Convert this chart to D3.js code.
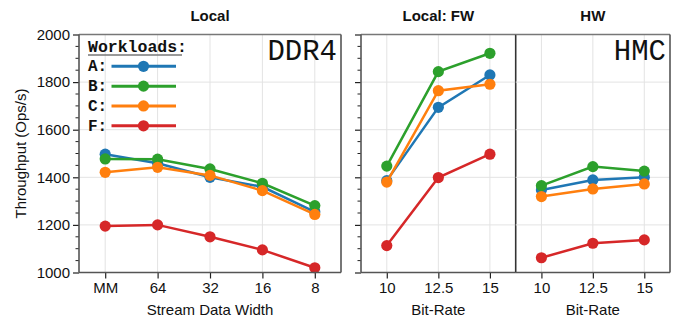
<!DOCTYPE html>
<html>
<head>
<meta charset="utf-8">
<script src="https://cdn.jsdelivr.net/npm/d3@7"></script>
<style>
  html, body { margin: 0; padding: 0; background: #fff; }
  svg text { font-family: "Liberation Sans", Arial, Helvetica, sans-serif; fill: #111; }
  .mono { font-family: "Liberation Mono", "DejaVu Sans Mono", monospace; }
</style>
</head>
<body>
<svg id="chart" width="678" height="322"></svg>
<script>
// Throughput per workload, three panels sharing one y axis
const widthCats = ["MM", "64", "32", "16", "8"];
const rateCats = ["10", "12.5", "15"];
const yTicks = [1000, 1200, 1400, 1600, 1800, 2000];

const workloads = ["A", "B", "C", "F"];
const colors = ["#1f77b4", "#2ca02c", "#ff7f0e", "#d62728"];

// Local, DDR4, by stream data width
const localA = [1497, 1459, 1400, 1360, 1255];
const localB = [1477, 1476, 1435, 1375, 1281];
const localC = [1421, 1442, 1408, 1344, 1244];
const localF = [1195, 1200, 1150, 1095, 1020];

// Local: FW, by bit-rate
const fwA = [1386, 1694, 1830];
const fwB = [1447, 1844, 1921];
const fwC = [1380, 1764, 1791];
const fwF = [1113, 1399, 1497];

// HW (HMC), by bit-rate
const hwA = [1347, 1389, 1400];
const hwB = [1365, 1445, 1426];
const hwC = [1319, 1351, 1372];
const hwF = [1062, 1123, 1137];

const svg = d3.select("#chart");
const y = d3.scaleLinear().domain([1000, 2000]).range([272.5, 34.5]);

const panels = [
  { title: "Local", cats: widthCats, x0: 79, x1: 341, xlabel: "Stream Data Width",
    series: [localA, localB, localC, localF], yAxis: "labels", tag: "DDR4" },
  { title: "Local: FW", cats: rateCats, x0: 361, x1: 515.7, xlabel: "Bit-Rate",
    series: [fwA, fwB, fwC, fwF], yAxis: "ticks" },
  { title: "HW", cats: rateCats, x0: 515.7, x1: 670, xlabel: "Bit-Rate",
    series: [hwA, hwB, hwC, hwF], yAxis: "none", tag: "HMC" }
];

const spine = "#555";

panels.forEach((p, pi) => {
  const x = d3.scalePoint().domain(p.cats).range([p.x0, p.x1]).padding(0.5);
  const g = svg.append("g");

  // grid
  g.append("g").selectAll("line.vg").data(p.cats).join("line")
    .attr("x1", d => x(d)).attr("x2", d => x(d))
    .attr("y1", y(2000)).attr("y2", y(1000))
    .attr("stroke", "#e3e3e3").attr("stroke-width", 1);
  g.append("g").selectAll("line.hg").data(yTicks.slice(1, -1)).join("line")
    .attr("x1", p.x0).attr("x2", p.x1)
    .attr("y1", d => y(d)).attr("y2", d => y(d))
    .attr("stroke", "#e3e3e3").attr("stroke-width", 1);

  // x axis
  const xa = g.append("g").attr("transform", `translate(0,${y(1000)})`)
    .call(d3.axisBottom(x).tickSize(6).tickPadding(4));
  xa.select(".domain").remove();
  xa.selectAll(".tick line").attr("stroke", "#222").attr("stroke-width", 1.2);
  xa.selectAll(".tick text").attr("font-size", 15).attr("fill", "#111")
    .attr("font-family", "Liberation Sans, Arial, sans-serif");

  // y axis
  if (p.yAxis !== "none") {
    const ya = g.append("g").attr("transform", `translate(${p.x0},0)`)
      .call(d3.axisLeft(y).tickValues(yTicks).tickSize(6).tickPadding(3)
        .tickFormat(p.yAxis === "labels" ? d3.format("d") : () => ""));
    ya.select(".domain").remove();
    ya.selectAll(".tick line").attr("stroke", "#222").attr("stroke-width", 1.2);
    ya.selectAll(".tick text").attr("font-size", 15).attr("fill", "#111")
      .attr("font-family", "Liberation Sans, Arial, sans-serif");
    const minor = d3.range(1050, 2000, 50).filter(v => v % 200 !== 0);
    ya.selectAll("line.minor").data(minor).join("line")
      .attr("x1", -3.5).attr("x2", 0)
      .attr("y1", d => y(d)).attr("y2", d => y(d))
      .attr("stroke", "#222").attr("stroke-width", 1);
  }

  // lines and markers
  const line = d3.line().x((d, i) => x(p.cats[i])).y(d => y(d));
  p.series.forEach((vals, si) => {
    g.append("path").datum(vals).attr("d", line)
      .attr("fill", "none").attr("stroke", colors[si]).attr("stroke-width", 2.5);
    g.append("g").selectAll("circle").data(vals).join("circle")
      .attr("cx", (d, i) => x(p.cats[i])).attr("cy", d => y(d))
      .attr("r", 5.6).attr("fill", colors[si]);
  });

  // frame
  g.append("line").attr("x1", p.x0).attr("x2", p.x1).attr("y1", y(2000)).attr("y2", y(2000))
    .attr("stroke", "#777").attr("stroke-width", 1.6);
  g.append("line").attr("x1", p.x0).attr("x2", p.x1).attr("y1", y(1000)).attr("y2", y(1000))
    .attr("stroke", spine).attr("stroke-width", 1.6);
  if (pi !== 2) {
    g.append("line").attr("x1", p.x0).attr("x2", p.x0).attr("y1", y(2000)).attr("y2", y(1000))
      .attr("stroke", spine).attr("stroke-width", 1.6);
  }
  g.append("line").attr("x1", p.x1).attr("x2", p.x1).attr("y1", y(2000)).attr("y2", y(1000))
    .attr("stroke", pi === 1 ? "#333" : spine).attr("stroke-width", 1.6);

  // titles
  g.append("text").attr("x", (p.x0 + p.x1) / 2).attr("y", 21)
    .attr("text-anchor", "middle").attr("font-size", 15).attr("font-weight", "bold")
    .text(p.title);
  g.append("text").attr("x", (p.x0 + p.x1) / 2).attr("y", 315)
    .attr("text-anchor", "middle").attr("font-size", 15)
    .text(p.xlabel);

  if (p.tag) {
    g.append("text").attr("class", "mono").attr("x", p.x1 - 4).attr("y", 60)
      .attr("text-anchor", "end").attr("font-size", 29)
      .text(p.tag);
  }
});

// y label
svg.append("text")
  .attr("transform", `translate(26,${(y(1000) + y(2000)) / 2}) rotate(-90)`)
  .attr("text-anchor", "middle").attr("font-size", 15)
  .text("Throughput (Ops/s)");

// legend
const leg = svg.append("g");
leg.append("text").attr("class", "mono").attr("x", 88).attr("y", 52)
  .attr("font-size", 16.5).attr("font-weight", "bold").text("Workloads:");
leg.append("line").attr("x1", 88).attr("x2", 182).attr("y1", 55).attr("y2", 55)
  .attr("stroke", "#777").attr("stroke-width", 1.4);
const legY = d3.scaleLinear().domain([0, 3]).range([66.3, 125.8]);
workloads.forEach((w, i) => {
  const yy = legY(i);
  leg.append("text").attr("class", "mono").attr("x", 88).attr("y", yy + 5)
    .attr("font-size", 16).attr("font-weight", "bold").text(w + ":");
  leg.append("line").attr("x1", 111.5).attr("x2", 176).attr("y1", yy).attr("y2", yy)
    .attr("stroke", colors[i]).attr("stroke-width", 3);
  leg.append("circle").attr("cx", 143.5).attr("cy", yy).attr("r", 5.6).attr("fill", colors[i]);
});
</script>
</body>
</html>
